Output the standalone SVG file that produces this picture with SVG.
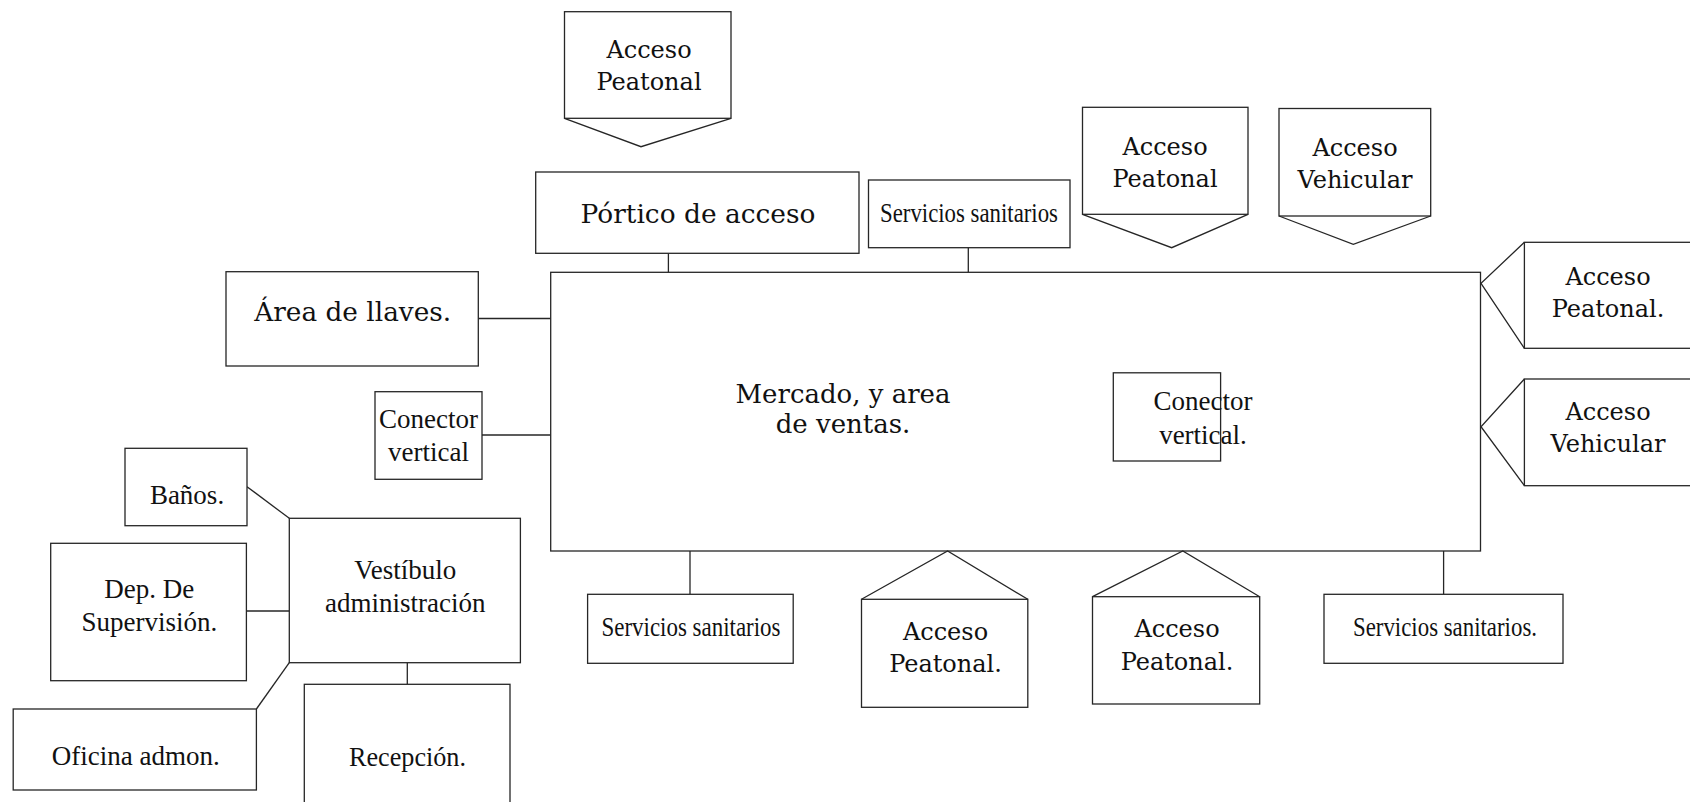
<svg xmlns="http://www.w3.org/2000/svg" width="1690" height="802" viewBox="0 0 1690 802">
<style>
.b{fill:#fff;stroke:#262626;stroke-width:1.3}
.p{fill:none;stroke:#262626;stroke-width:1.3;stroke-linejoin:miter}
.l{fill:none;stroke:#262626;stroke-width:1.3}
.c{font-family:"DejaVu Serif","Liberation Serif",serif;font-size:24px;fill:#111;text-anchor:middle}
.cb{font-family:"DejaVu Serif","Liberation Serif",serif;font-size:26px;fill:#111;text-anchor:middle}
.t{font-family:"Liberation Serif","Times New Roman",serif;font-size:27px;fill:#111;text-anchor:middle}
.s{font-family:"Liberation Serif","Times New Roman",serif;font-size:28px;fill:#111;text-anchor:middle}
</style>
<rect width="1690" height="802" fill="#fff"/>

<g id="connectors">
<line class="l" x1="668.4" y1="253.3" x2="668.4" y2="272.3"/>
<line class="l" x1="968.3" y1="247.7" x2="968.3" y2="272.3"/>
<line class="l" x1="478.3" y1="318.5" x2="550.7" y2="318.5"/>
<line class="l" x1="482" y1="435" x2="550.7" y2="435"/>
<line class="l" x1="247" y1="486.7" x2="289.3" y2="518.3"/>
<line class="l" x1="246.4" y1="611" x2="289.3" y2="611"/>
<line class="l" x1="256.4" y1="709" x2="289.3" y2="662.7"/>
<line class="l" x1="407.3" y1="662.7" x2="407.3" y2="684.3"/>
<line class="l" x1="690" y1="551" x2="690" y2="594.3"/>
<line class="l" x1="1443.6" y1="551" x2="1443.6" y2="594.3"/>
</g>

<g id="mercado">
<rect class="b" x="550.7" y="272.3" width="929.8" height="278.7"/>
<text class="cb" x="843" y="403.3" textLength="215" lengthAdjust="spacingAndGlyphs">Mercado, y area</text>
<text class="cb" x="843" y="433.3">de ventas.</text>
</g>

<g id="acceso-peatonal-top">
<rect class="b" x="564.5" y="11.7" width="166.5" height="106.6"/>
<polyline class="p" points="564.5,118.3 641,146.7 731,118.3"/>
<text class="c" x="649" y="58">Acceso</text>
<text class="c" x="649" y="90">Peatonal</text>
</g>

<g id="portico">
<rect class="b" x="535.7" y="172" width="323.3" height="81.3"/>
<text class="cb" x="698" y="222.5" textLength="235" lengthAdjust="spacingAndGlyphs">Pórtico de acceso</text>
</g>

<g id="servicios-top">
<rect class="b" x="868.5" y="180" width="201.5" height="67.7"/>
<text class="s" x="969" y="221.7" textLength="178" lengthAdjust="spacingAndGlyphs">Servicios sanitarios</text>
</g>

<g id="acceso-peatonal-tr">
<rect class="b" x="1082.5" y="107.3" width="165.5" height="107"/>
<polyline class="p" points="1082.5,214.3 1171.7,247.7 1248,214.3"/>
<text class="c" x="1165" y="155">Acceso</text>
<text class="c" x="1165" y="187.3">Peatonal</text>
</g>

<g id="acceso-vehicular-top">
<rect class="b" x="1279" y="108.5" width="151.7" height="107.5"/>
<polyline class="p" points="1279,216 1353.3,244.3 1430.7,216"/>
<text class="c" x="1355" y="155.5">Acceso</text>
<text class="c" x="1355" y="187.8" textLength="115" lengthAdjust="spacingAndGlyphs">Vehicular</text>
</g>

<g id="acceso-peatonal-right">
<rect class="b" x="1524.4" y="242.3" width="200" height="106"/>
<polyline class="p" points="1524.4,242.3 1481,283.3 1524.4,348.3"/>
<text class="c" x="1608" y="285">Acceso</text>
<text class="c" x="1608" y="317.3">Peatonal.</text>
</g>

<g id="acceso-vehicular-right">
<rect class="b" x="1524.4" y="379" width="200" height="106.7"/>
<polyline class="p" points="1524.4,379 1481,426.7 1524.4,485.7"/>
<text class="c" x="1608" y="419.5">Acceso</text>
<text class="c" x="1608" y="451.5" textLength="115" lengthAdjust="spacingAndGlyphs">Vehicular</text>
</g>

<g id="area-llaves">
<rect class="b" x="226" y="271.7" width="252.3" height="94.3"/>
<text class="cb" x="352.7" y="321" textLength="197" lengthAdjust="spacingAndGlyphs">Área de llaves.</text>
</g>

<g id="conector-vertical-left">
<rect class="b" x="375" y="391.7" width="107" height="87.6"/>
<text class="t" x="428.5" y="428">Conector</text>
<text class="t" x="428.5" y="460.5">vertical</text>
</g>

<g id="conector-vertical-inner">
<rect class="b" x="1113.3" y="372.8" width="107.3" height="88.2"/>
<text class="t" x="1203" y="410">Conector</text>
<text class="t" x="1203" y="443.5">vertical.</text>
</g>

<g id="banos">
<rect class="b" x="125" y="448.3" width="122" height="77.4"/>
<text class="t" x="187" y="503.5">Baños.</text>
</g>

<g id="dep-supervision">
<rect class="b" x="50.7" y="543.3" width="195.7" height="137.4"/>
<text class="t" x="149.3" y="598.3">Dep. De</text>
<text class="t" x="149.3" y="630.7">Supervisión.</text>
</g>

<g id="vestibulo">
<rect class="b" x="289.3" y="518.3" width="231.1" height="144.4"/>
<text class="t" x="405.2" y="579">Vestíbulo</text>
<text class="t" x="405.2" y="611.7">administración</text>
</g>

<g id="oficina">
<rect class="b" x="13.2" y="709" width="243.2" height="81"/>
<text class="t" x="135.7" y="765">Oficina admon.</text>
</g>

<g id="recepcion">
<rect class="b" x="304.3" y="684.3" width="205.7" height="130"/>
<text class="t" x="407.5" y="766" textLength="117" lengthAdjust="spacingAndGlyphs">Recepción.</text>
</g>

<g id="servicios-bottom-left">
<rect class="b" x="587.6" y="594.3" width="205.6" height="69"/>
<text class="s" x="691" y="636" textLength="179" lengthAdjust="spacingAndGlyphs">Servicios sanitarios</text>
</g>

<g id="acceso-peatonal-b1">
<rect class="b" x="861.5" y="599.3" width="166.3" height="108"/>
<polyline class="p" points="861.5,599.3 947.6,551 1027.8,599.3"/>
<text class="c" x="945.5" y="640">Acceso</text>
<text class="c" x="945.5" y="671.7">Peatonal.</text>
</g>

<g id="acceso-peatonal-b2">
<rect class="b" x="1092.5" y="596.7" width="167.2" height="107.3"/>
<polyline class="p" points="1092.5,596.7 1182.8,551 1259.7,596.7"/>
<text class="c" x="1177" y="637">Acceso</text>
<text class="c" x="1177" y="669.5">Peatonal.</text>
</g>

<g id="servicios-bottom-right">
<rect class="b" x="1324" y="594.3" width="239" height="69"/>
<text class="s" x="1445" y="636" textLength="184" lengthAdjust="spacingAndGlyphs">Servicios sanitarios.</text>
</g>
</svg>
